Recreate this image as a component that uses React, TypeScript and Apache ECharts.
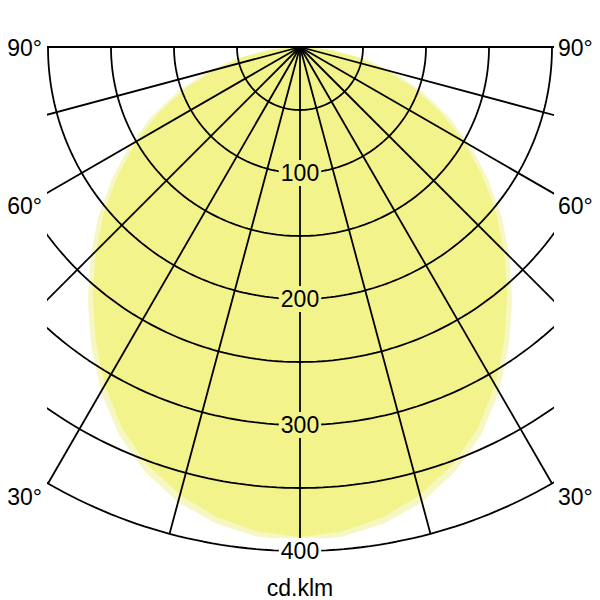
import React, { useEffect, useRef } from 'react';
import * as echarts from 'echarts';

// gamma angles (degrees from nadir), curve is symmetric
const gammaAngles = [0, 5, 10, 15, 20, 25, 30, 35, 40, 45, 50, 55, 60, 65, 70, 75, 80, 85, 90];
// intensity, cd/klm - main plane
const mainCurve = [389, 386, 379, 368, 353, 334, 310, 283, 256, 229, 203, 176, 150, 124, 97, 71, 46, 21, 0];
// intensity, cd/klm - second plane (pale rim)
const outerCurve = [392, 390, 384, 374, 359, 340, 316, 289, 262, 235, 209, 182, 156, 130, 103, 77, 51, 25, 0];

const gridRadii = [50, 100, 150, 200, 250, 300, 350, 400];
const radialAngles = [-90, -75, -60, -45, -30, -15, 0, 15, 30, 45, 60, 75, 90];
const radiusLabels = [100, 200, 300, 400];
const angleLabels = [90, 60, 30];
const unitLabel = 'cd.klm';

const FONT = "'Liberation Sans', Arial, sans-serif";
const MAIN_FILL = '#F3F38B';
const RIM_FILL = '#F7F7C4';
const HALF_WIDTH = 200; // x-axis extent in cd/klm

const toXY = (deg: number, r: number) => {
  const a = (deg * Math.PI) / 180;
  return [r * Math.sin(a), r * Math.cos(a)];
};

const curvePoints = (values: number[]) => {
  const left = gammaAngles.map((g, i) => toXY(-g, values[i])).reverse();
  const right = gammaAngles.map((g, i) => toXY(g, values[i]));
  return [...left, ...right];
};

const App: React.FC = () => {
  const chartRef = useRef<HTMLDivElement>(null);

  useEffect(() => {
    if (!chartRef.current) return;
    const chart = echarts.init(chartRef.current, null, { renderer: 'svg' });

    const lineStyle = { color: '#000', width: 1.8 };

    const arcSeries = gridRadii.map((r) => {
      const pts: number[][] = [];
      for (let d = -90; d <= 90; d += 1) pts.push(toXY(d, r));
      return {
        type: 'line',
        data: pts,
        showSymbol: false,
        symbol: 'none',
        lineStyle,
        silent: true,
        clip: true,
        z: 3
      };
    });

    const radialSeries = radialAngles.map((d) => ({
      type: 'line',
      data: [toXY(d, 0), toXY(d, 400)],
      showSymbol: false,
      symbol: 'none',
      lineStyle,
      silent: true,
      clip: true,
      z: 3
    }));

    const fillSeries = (values: number[], fill: string, z: number) => ({
      type: 'custom',
      data: [[0, 0]],
      silent: true,
      z,
      renderItem: (_params: any, api: any) => ({
        type: 'polygon',
        shape: { points: curvePoints(values).map((p) => api.coord(p)) },
        style: { fill, stroke: 'none' }
      })
    });

    // points where the angle lines leave the left / right edge
    const edgePoint = (deg: number, side: number) => {
      const a = (deg * Math.PI) / 180;
      const y = deg >= 90 ? 0 : HALF_WIDTH / Math.tan(a);
      return [side * HALF_WIDTH, y];
    };

    const angleLabelSeries = [-1, 1].map((side) => ({
      type: 'scatter',
      symbolSize: 0,
      silent: true,
      clip: false,
      z: 5,
      itemStyle: { opacity: 1 },
      data: angleLabels.map((deg) => ({
        value: edgePoint(deg, side),
        label: {
          show: true,
          formatter: `${deg}°`,
          position: side < 0 ? 'left' : 'right',
          distance: 6,
          offset: [0, deg >= 90 ? 1 : 14],
          fontSize: 23,
          fontFamily: FONT,
          color: '#000'
        }
      }))
    }));

    const option: any = {
      animation: false,
      backgroundColor: '#fff',
      grid: { left: 48, top: 47, width: 504, height: 529.2, containLabel: false },
      xAxis: { type: 'value', min: -HALF_WIDTH, max: HALF_WIDTH, show: false },
      yAxis: { type: 'value', min: 0, max: 420, inverse: true, show: false },
      series: [
        fillSeries(outerCurve, RIM_FILL, 1),
        fillSeries(mainCurve, MAIN_FILL, 2),
        ...arcSeries,
        ...radialSeries,
        {
          type: 'scatter',
          symbolSize: 0,
          silent: true,
          clip: false,
          z: 6,
          itemStyle: { opacity: 1 },
          data: radiusLabels.map((r) => ({
            value: [0, r],
            label: {
              show: true,
              position: 'inside',
              formatter: String(r),
              fontSize: 23,
              fontFamily: FONT,
              color: '#000',
              backgroundColor: r < 390 ? MAIN_FILL : '#fff',
              padding: [2, 2, 1, 2]
            }
          }))
        },
        ...angleLabelSeries
      ],
      graphic: [
        {
          type: 'text',
          x: 300,
          y: 588,
          style: {
            text: unitLabel,
            fontSize: 23,
            fontFamily: FONT,
            fill: '#000',
            textAlign: 'center',
            textVerticalAlign: 'middle'
          }
        }
      ]
    };

    chart.setOption(option);

    return () => {
      chart.dispose();
    };
  }, []);

  return (
    <div
      ref={chartRef}
      style={{ position: 'absolute', left: 0, top: 0, width: 600, height: 600 }}
    />
  );
};

export default App;
